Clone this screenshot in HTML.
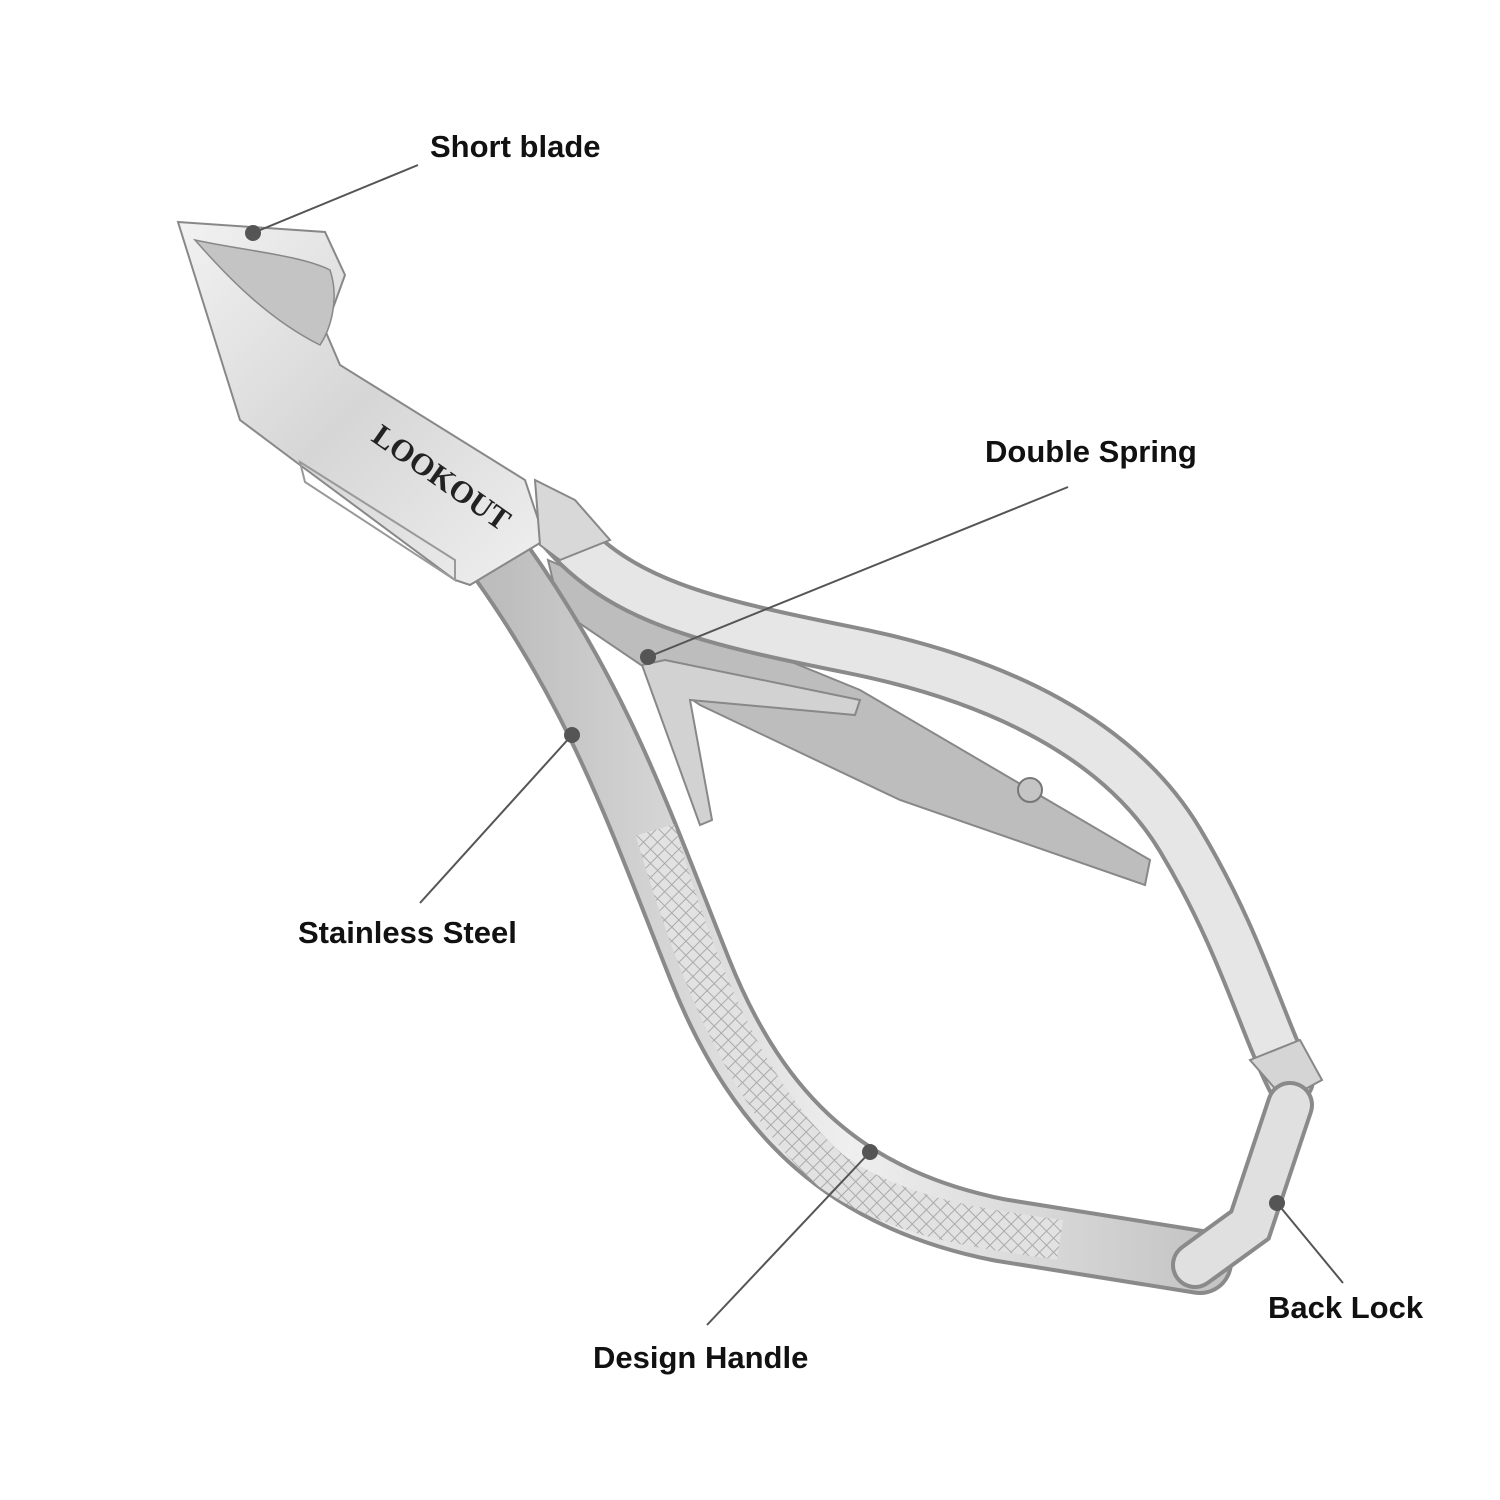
<!DOCTYPE html>
<html><head><meta charset="utf-8"><style>
html,body{margin:0;padding:0;background:#fff;}
svg{display:block;}
text{font-family:"Liberation Sans",Arial,sans-serif;font-weight:bold;font-size:31px;fill:#111;}
</style></head><body>
<svg width="1500" height="1500" viewBox="0 0 1500 1500" xmlns="http://www.w3.org/2000/svg">
<defs>
<linearGradient id="g1" x1="0" y1="0" x2="1" y2="1">
<stop offset="0" stop-color="#f2f2f2"/><stop offset="0.5" stop-color="#d6d6d6"/><stop offset="1" stop-color="#f0f0f0"/>
</linearGradient>
<linearGradient id="g2" x1="0" y1="0" x2="1" y2="0">
<stop offset="0" stop-color="#bdbdbd"/><stop offset="0.5" stop-color="#efefef"/><stop offset="1" stop-color="#c5c5c5"/>
</linearGradient>
<pattern id="knurl" width="10" height="10" patternUnits="userSpaceOnUse" patternTransform="rotate(45)">
<rect width="10" height="10" fill="#e2e2e2"/><path d="M0 0H10M0 0V10" stroke="#aaa" stroke-width="2"/>
</pattern>
</defs>

<polygon points="548,560 640,600 860,690 1150,860 1145,885 900,800 700,705 560,610" fill="#bdbdbd" stroke="#888" stroke-width="2"/>
<polygon points="642,665 665,660 860,700 855,715 690,700 712,820 700,825" fill="#d2d2d2" stroke="#888" stroke-width="2"/>

<path d="M560 530 C620 600 700 620 850 650 C1000 680 1120 740 1180 840 C1240 940 1260 1020 1290 1080" fill="none" stroke="#8a8a8a" stroke-width="50" stroke-linecap="round"/>
<path d="M560 530 C620 600 700 620 850 650 C1000 680 1120 740 1180 840 C1240 940 1260 1020 1290 1080" fill="none" stroke="#e6e6e6" stroke-width="42" stroke-linecap="round"/>
<path d="M1250 1060 L1300 1040 L1322 1080 L1285 1100 Z" fill="#d5d5d5" stroke="#888" stroke-width="2"/>
<circle cx="1030" cy="790" r="12" fill="#c5c5c5" stroke="#777" stroke-width="2"/>

<path d="M500 560 C600 700 640 820 700 970 C760 1120 850 1200 1000 1230 L1200 1262" fill="none" stroke="#8a8a8a" stroke-width="66" stroke-linecap="round"/>
<path d="M500 560 C600 700 640 820 700 970 C760 1120 850 1200 1000 1230 L1200 1262" fill="none" stroke="url(#g2)" stroke-width="58" stroke-linecap="round"/>
<path d="M655 830 C690 950 740 1090 830 1170 C900 1220 980 1228 1060 1240" fill="none" stroke="url(#knurl)" stroke-width="40"/>
<path d="M1195 1265 L1250 1225 L1290 1105" fill="none" stroke="#8a8a8a" stroke-width="48" stroke-linecap="round"/>
<path d="M1195 1265 L1250 1225 L1290 1105" fill="none" stroke="#e0e0e0" stroke-width="40" stroke-linecap="round"/>

<polygon points="178,222 325,232 345,275 325,330 340,365 525,480 545,540 470,585 455,580 300,465 240,420" fill="url(#g1)" stroke="#888" stroke-width="2"/>
<path d="M195 240 C240 250 300 255 330 270 C340 300 330 330 320 345 C270 320 230 280 195 240 Z" fill="#c4c4c4" stroke="#888" stroke-width="1.5"/>
<polygon points="300,462 455,560 455,580 305,482" fill="none" stroke="#999" stroke-width="2"/>
<text x="370" y="440" font-size="22" transform="rotate(35 370 440)" style="font-family:'Liberation Serif',serif;fill:#222">LOOKOUT</text>
<polygon points="535,480 575,500 610,540 560,560 540,545" fill="#d8d8d8" stroke="#888" stroke-width="2"/>

<g stroke="#555" stroke-width="2" fill="#555">
<line x1="418" y1="165" x2="253" y2="233"/><circle cx="253" cy="233" r="8" stroke="none"/>
<line x1="1068" y1="487" x2="648" y2="657"/><circle cx="648" cy="657" r="8" stroke="none"/>
<line x1="420" y1="903" x2="572" y2="735"/><circle cx="572" cy="735" r="8" stroke="none"/>
<line x1="707" y1="1325" x2="870" y2="1152"/><circle cx="870" cy="1152" r="8" stroke="none"/>
<line x1="1343" y1="1283" x2="1277" y2="1203"/><circle cx="1277" cy="1203" r="8" stroke="none"/>
</g>

<text x="430" y="157">Short blade</text>
<text x="985" y="462">Double Spring</text>
<text x="298" y="943">Stainless Steel</text>
<text x="593" y="1368">Design Handle</text>
<text x="1268" y="1318">Back Lock</text>
</svg>
</body></html>
